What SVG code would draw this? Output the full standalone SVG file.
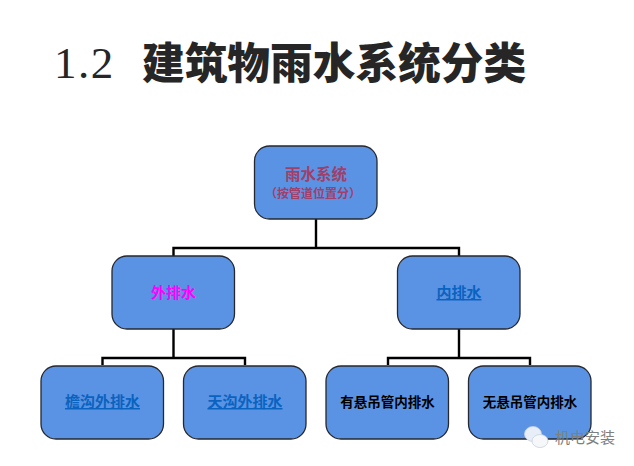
<svg xmlns="http://www.w3.org/2000/svg" width="634" height="466" viewBox="0 0 634 466">
<style>
text{font-family:"Noto Sans CJK SC","Liberation Sans",sans-serif;text-anchor:middle}
.box{fill:#5b93e4;stroke:#26282e;stroke-width:1.3}
.conn{fill:none;stroke:#000;stroke-width:2.4}
.lbl{font-size:15px;font-weight:700}
.link{fill:#0a63bf;text-decoration:underline}
.black{font-size:13.5px;font-weight:700;fill:#000}
</style>
<rect width="634" height="466" fill="#fff"/>
<g id="title">
<text x="54" y="78" style="text-anchor:start;font-family:'Liberation Serif',serif;font-size:45px;letter-spacing:1.5px" fill="#262626">1.2</text>
<text x="142" y="79" style="text-anchor:start;font-size:42.7px;font-weight:900" fill="#262626">建筑物雨水系统分类</text>
</g>
<g id="connectors">
<path class="conn" d="M316 219V248M173.500 256V248H459V256"/>
<path class="conn" d="M173.500 329V358M102.500 365V358H245V365"/>
<path class="conn" d="M459 329V358M388 365V358H530V365"/>
</g>
<g id="node-root">
<rect class="box" x="254.500" y="146" width="122.500" height="73" rx="15"/>
<text x="316" y="180" style="font-size:15.500px;font-weight:700" fill="#a04068">雨水系统</text>
<text x="313" y="198" style="font-size:12px;font-weight:700" fill="#a04068">（按管道位置分）</text>
</g>
<g id="node-outer">
<rect class="box" x="112" y="256" width="122.500" height="73" rx="15"/>
<text class="lbl" x="173.500" y="298" fill="#ff00ff">外排水</text>
</g>
<g id="node-inner">
<rect class="box" x="397.500" y="256" width="122.500" height="73" rx="15"/>
<text class="lbl link" x="459" y="298">内排水</text>
</g>
<g id="node-gutter">
<rect class="box" x="41" y="366" width="122.500" height="73" rx="15"/>
<text class="lbl link" x="102.500" y="407">檐沟外排水</text>
</g>
<g id="node-valley">
<rect class="box" x="183.500" y="366" width="122.500" height="73" rx="15"/>
<text class="lbl link" x="245" y="407">天沟外排水</text>
</g>
<g id="node-hung">
<rect class="box" x="326" y="366" width="122.500" height="73" rx="15"/>
<text class="black" x="387.500" y="407">有悬吊管内排水</text>
</g>
<g id="node-nohung">
<rect class="box" x="468.500" y="366" width="122.500" height="73" rx="15"/>
<text class="black" x="530" y="407">无悬吊管内排水</text>
</g>
<g id="watermark">
<ellipse cx="533" cy="434" rx="8.500" ry="7.500" fill="#e8eef8" stroke="#c8d0dc" stroke-width="0.800"/>
<ellipse cx="540" cy="441" rx="8" ry="6.500" fill="#f6f7f9" stroke="#c8d0dc" stroke-width="0.800"/>
<text x="585" y="443" style="font-size:15px" fill="#7f7f7f">机电安装</text>
</g>
</svg>
